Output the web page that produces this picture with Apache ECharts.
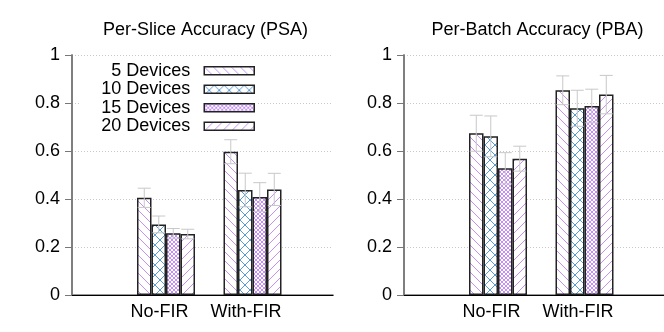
<!DOCTYPE html>
<html><head><meta charset="utf-8">
<script src="https://cdn.jsdelivr.net/npm/echarts@6/dist/echarts.min.js"></script>
<style>html,body{margin:0;padding:0;background:#fff}#c{width:664px;height:332px}</style>
</head><body><div id="c"></div>
<script>
const categories = ['No-FIR', 'With-FIR'];
const seriesNames = ['5 Devices', '10 Devices', '15 Devices', '20 Devices'];
const psaValues = [[0.405, 0.597], [0.294, 0.4375], [0.257, 0.408], [0.254, 0.44]];
const psaErrors = [[0.04, 0.05], [0.035, 0.07], [0.02, 0.06], [0.02, 0.067]];
const pbaValues = [[0.674, 0.853], [0.661, 0.778], [0.528, 0.7875], [0.568, 0.835]];
const pbaErrors = [[0.075, 0.06], [0.085, 0.075], [0.065, 0.07], [0.052, 0.08]];
const yTickLabels = ['0', '0.2', '0.4', '0.6', '0.8', '1'];
const titles = ['Per-Slice Accuracy (PSA)', 'Per-Batch Accuracy (PBA)'];

const FONT = 'Liberation Sans';
const FS = 18;
const BAR_W = 14.5;
const AXIS_GRAY = '#777';

function pat(kind, color, s) {
  const c = document.createElement('canvas'); c.width = s; c.height = s;
  const g = c.getContext('2d'); g.fillStyle = '#fff'; g.fillRect(0, 0, s, s);
  g.strokeStyle = color; g.lineWidth = 1;
  g.beginPath();
  for (let k = -1; k <= 1; k++) {
    if (kind === 'back' || kind === 'cross') { g.moveTo(k * s, 0); g.lineTo(k * s + s, s); }
    if (kind === 'fwd' || kind === 'cross') { g.moveTo(k * s, s); g.lineTo(k * s + s, 0); }
  }
  g.stroke();
  return { image: c, repeat: 'repeat' };
}
const fills = [
  pat('back', '#c58ff5', 9),
  pat('cross', '#5a9ad0', 10),
  pat('cross', '#c58ff5', 4),
  pat('fwd', '#c58ff5', 9)
];

const panels = [
  { frameLeft: 72, values: psaValues, errors: psaErrors, title: titles[0] },
  { frameLeft: 404, values: pbaValues, errors: pbaErrors, title: titles[1] }
];
const FRAME_W = 261, TOP = 55, H = 240;
const BAR_OFF = 50.75, BAR_GRID_W = 173;

const grid = [], xAxis = [], yAxis = [], series = [], title = [];
panels.forEach((p, pi) => {
  grid.push({ left: p.frameLeft, top: TOP, width: FRAME_W, height: H, show: false });
  grid.push({ left: p.frameLeft + BAR_OFF, top: TOP, width: BAR_GRID_W, height: H, show: false });
  const gF = pi * 2, gB = pi * 2 + 1;
  xAxis.push({ gridIndex: gF, type: 'value', min: 0, max: 1, position: 'bottom',
    axisLine: { show: true, lineStyle: { color: AXIS_GRAY, width: 1.5 } },
    axisTick: { show: false }, axisLabel: { show: false }, splitLine: { show: false } });
  xAxis.push({ gridIndex: gF, type: 'value', min: 0, max: 1, position: 'top',
    axisLine: { show: true, lineStyle: { color: '#000', width: 1 } },
    axisTick: { show: false }, axisLabel: { show: false }, splitLine: { show: false } });
  xAxis.push({ gridIndex: gB, type: 'category', data: categories,
    axisLine: { show: false }, axisTick: { show: false }, splitLine: { show: false },
    axisLabel: { interval: 0, margin: 8, fontSize: FS, fontFamily: FONT, color: '#000', padding: [0, 13, 0, 0] } });
  yAxis.push({ gridIndex: gF, type: 'value', min: 0, max: 1, interval: 0.2, position: 'left',
    axisLine: { show: true, lineStyle: { color: AXIS_GRAY, width: 1.5 } },
    axisTick: { show: true, inside: false, length: 5, lineStyle: { color: AXIS_GRAY, width: 1 } },
    axisLabel: { margin: 12, fontSize: FS, fontFamily: FONT, color: '#000',
      formatter: v => yTickLabels[Math.round(v * 5)] },
    splitLine: { show: true, lineStyle: { color: '#c8c8c8', width: 1, type: [1, 2] } } });
  yAxis.push({ gridIndex: gF, type: 'value', min: 0, max: 1, interval: 0.2, position: 'right',
    axisLine: { show: true, lineStyle: { color: AXIS_GRAY, width: 1.5 } },
    axisTick: { show: true, inside: true, length: 7, lineStyle: { color: AXIS_GRAY, width: 1 } },
    axisLabel: { show: false }, splitLine: { show: false } });
  yAxis.push({ gridIndex: gB, type: 'value', min: 0, max: 1, show: false });

  const xi = pi * 3 + 2, yi = pi * 3 + 2;
  seriesNames.forEach((name, si) => {
    series.push({
      type: 'bar', name, xAxisIndex: xi, yAxisIndex: yi,
      data: p.values[si], barWidth: BAR_W, barGap: '0%',
      itemStyle: { color: fills[si], borderColor: '#222', borderWidth: 1.5 },
      emphasis: { disabled: true }, z: 2
    });
  });
  const errData = [];
  seriesNames.forEach((name, si) => {
    categories.forEach((c, ci) => errData.push([ci, p.values[si][ci], p.errors[si][ci], si]));
  });
  series.push({
    type: 'custom', xAxisIndex: xi, yAxisIndex: yi, z: 5, silent: true,
    data: errData,
    renderItem: (params, api) => {
      const ci = api.value(0), v = api.value(1), e = api.value(2), si = api.value(3);
      const cx = api.coord([ci, v])[0] + (si - 1.5) * BAR_W;
      const yt = api.coord([ci, v + e])[1];
      const yb = api.coord([ci, v - e])[1];
      const hw = 6.5;
      const st = { stroke: '#c8c8c8', lineWidth: 1 };
      return { type: 'group', children: [
        { type: 'line', shape: { x1: cx, y1: yt, x2: cx, y2: yb }, style: st },
        { type: 'line', shape: { x1: cx - hw, y1: yt, x2: cx + hw, y2: yt }, style: st },
        { type: 'line', shape: { x1: cx - hw, y1: yb, x2: cx + hw, y2: yb }, style: st }
      ] };
    }
  });
  title.push({ text: p.title, left: p.frameLeft + FRAME_W / 2 - 2, top: 16, textAlign: 'center',
    textStyle: { fontSize: FS, fontWeight: 'normal', fontFamily: FONT, color: '#000' } });
});

const chart = echarts.init(document.getElementById('c'), null, { renderer: 'canvas' });
chart.setOption({
  animation: false,
  title, grid, xAxis, yAxis, series,
  legend: {
    data: seriesNames, orient: 'vertical', align: 'right', icon: 'rect',
    right: 664 - 255 - 3, top: 59.5, padding: [2, 3, 2, 22], backgroundColor: '#fff',
    itemWidth: 50, itemHeight: 8, itemGap: 0, selectedMode: false,
    itemStyle: { borderColor: '#222', borderWidth: 1.5 },
    textStyle: { fontSize: FS, fontFamily: FONT, color: '#000', lineHeight: 18.5, padding: [0, 9, 0, 0] }
  }
});
</script></body></html>
